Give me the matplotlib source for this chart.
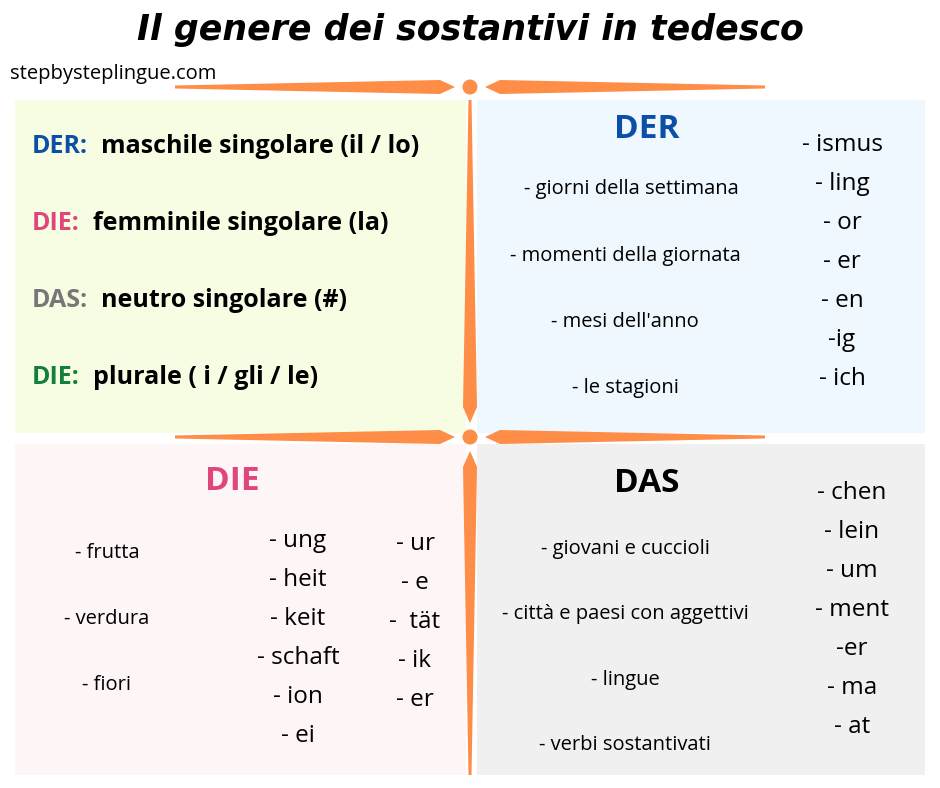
import matplotlib
matplotlib.use("Agg")
import matplotlib.pyplot as plt
from matplotlib.patches import Rectangle, Circle, Polygon

title = "Il genere dei sostantivi in tedesco"
site = "stepbysteplingue.com"
art_words = ["DER:", "DIE:", "DAS:", "DIE:"]
art_desc = ["maschile singolare (il / lo)", "femminile singolare (la)", "neutro singolare (#)", "plurale ( i / gli / le)"]
art_colors = ["#0b4fa8", "#e0457b", "#777777", "#12803a"]
der_cats = ["- giorni della settimana", "- momenti della giornata", "- mesi dell'anno", "- le stagioni"]
der_suffix = ["- ismus", "- ling", "- or", "- er", "- en", "-ig", "- ich"]
die_cats = ["- frutta", "- verdura", "- fiori"]
die_suffix1 = ["- ung", "- heit", "- keit", "- schaft", "- ion", "- ei"]
die_suffix2 = ["- ur", "- e", "-  tät", "- ik", "- er"]
das_cats = ["- giovani e cuccioli", "- città e paesi con aggettivi", "- lingue", "- verbi sostantivati"]
das_suffix = ["- chen", "- lein", "- um", "- ment", "-er", "- ma", "- at"]

W, H = 940, 788
fig = plt.figure(figsize=(W/100, H/100), dpi=100)
ax = fig.add_axes([0, 0, 1, 1])
ax.set_xlim(0, W); ax.set_ylim(H, 0); ax.axis("off")
FONT = "Open Sans"
OR = "#fe8d47"

for (x0, y0, x1, y1, c) in [(15, 100, 466, 433, "#f7fde3"), (477, 100, 925, 433, "#eff8fe"),
                            (15, 444, 466, 775, "#fef5f7"), (477, 444, 925, 775, "#f0f0f0")]:
    ax.add_patch(Rectangle((x0, y0), x1-x0, y1-y0, color=c, lw=0))

def harm(cx, cy, d):
    far = cx + d*295; near = cx + d*15; base = cx + d*30
    ax.add_patch(Polygon([(far, cy-1.5), (base, cy-7), (near, cy), (base, cy+7), (far, cy+1.5)], color=OR, lw=0))
def varm(cx, cy, end):
    d = 1 if end > cy else -1
    near = cy + d*14; base = cy + d*30
    ax.add_patch(Polygon([(cx-1.5, end), (cx-7, base), (cx, near), (cx+7, base), (cx+1.5, end)], color=OR, lw=0))

for cy in (87, 437):
    harm(470, cy, -1); harm(470, cy, 1)
    ax.add_patch(Circle((470, cy), 7.5, color=OR, lw=0))
varm(470, 437, 100); varm(470, 437, 775)

ax.text(470, 30, title, ha="center", va="center", fontsize=25, fontweight="bold", style="italic", family="DejaVu Sans")
ax.text(10, 74, site, ha="left", va="center", fontsize=14.5, family=FONT)

for i, (w, d, c) in enumerate(zip(art_words, art_desc, art_colors)):
    y = 146 + i*77
    t = ax.text(32, y, w, ha="left", va="center", fontsize=18, fontweight="bold", color=c, family=FONT)
    ax.annotate("  " + d, xycoords=t, xy=(1, 0.5), va="center", ha="left", fontsize=18, fontweight="bold", family=FONT)

ax.text(647, 129, "DER", ha="center", va="center", fontsize=24, fontweight="bold", color="#0b4fa8", family=FONT)
for i, s in enumerate(der_cats):
    ax.text([631, 625, 625, 625][i], [189, 256, 322, 388][i], s, ha="center", va="center", fontsize=14.5, family=FONT)
for i, s in enumerate(der_suffix):
    ax.text(842, 145 + i*39, s, ha="center", va="center", fontsize=17.5, family=FONT)

ax.text(232, 481, "DIE", ha="center", va="center", fontsize=24, fontweight="bold", color="#e0457b", family=FONT)
for i, s in enumerate(die_cats):
    ax.text(107, 553 + i*66, s, ha="center", va="center", fontsize=14.5, family=FONT)
for i, s in enumerate(die_suffix1):
    ax.text(298, 541 + i*39, s, ha="center", va="center", fontsize=17.5, family=FONT)
for i, s in enumerate(die_suffix2):
    ax.text(415, 544 + i*39, s, ha="center", va="center", fontsize=17.5, family=FONT)

ax.text(647, 483, "DAS", ha="center", va="center", fontsize=24, fontweight="bold", color="black", family=FONT)
for i, s in enumerate(das_cats):
    ax.text(625, [549, 614, 680, 745][i], s, ha="center", va="center", fontsize=14.5, family=FONT)
for i, s in enumerate(das_suffix):
    ax.text(852, 493 + i*39, s, ha="center", va="center", fontsize=17.5, family=FONT)

fig.savefig("out.png", dpi=100)
